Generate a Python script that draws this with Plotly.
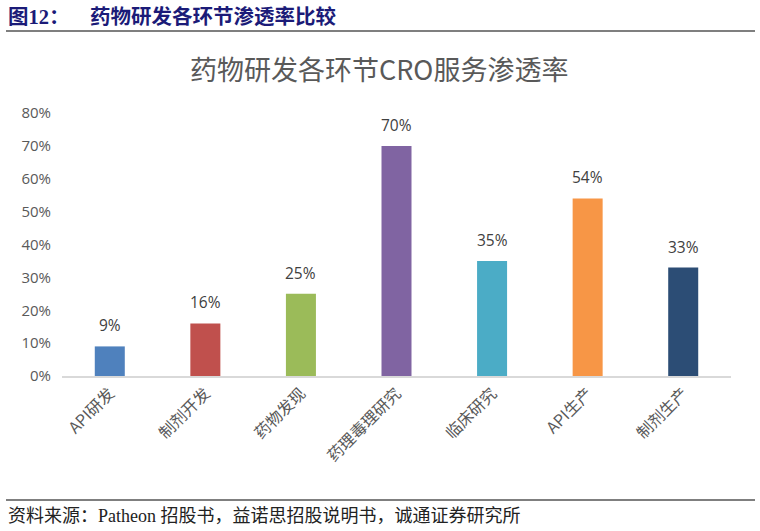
import plotly.graph_objects as go

categories = ["API研发", "制剂开发", "药物发现", "药理毒理研究", "临床研究", "API生产", "制剂生产"]
values = [0.09, 0.16, 0.25, 0.70, 0.35, 0.54, 0.33]
colors = ["#4F81BD", "#C0504D", "#9BBB59", "#8064A2", "#4BACC6", "#F79646", "#2C4D75"]
tick_vals = [0, 0.1, 0.2, 0.3, 0.4, 0.5, 0.6, 0.7, 0.8]

W, H = 760, 531
L, R, T, B = 62, 29, 113, 155
PH = H - T - B
PW = W - L - R


def py(p):
    return (H - B - p) / PH


def px(p):
    return (p - L) / PW


fig = go.Figure()
fig.add_trace(go.Bar(
    x=categories, y=values, marker=dict(color=colors, line=dict(width=0)),
    width=0.314, hoverinfo="skip",
))

for c, v in zip(categories, values):
    fig.add_annotation(x=c, y=v, text=f"{round(v*100)}%", showarrow=False,
                       yanchor="bottom", yshift=8,
                       font=dict(family="Open Sans, Noto Sans CJK SC", size=15.5, color="#404040"))

fig.add_annotation(xref="paper", yref="paper", x=px(W / 2 - 1), y=py(68), text="药物研发各环节CRO服务渗透率",
                   showarrow=False, xanchor="center", yanchor="middle",
                   font=dict(family="Noto Sans CJK SC", size=27, color="#595959"))

fig.add_annotation(xref="paper", yref="paper", x=px(6), y=py(16),
                   text="<b>图12：    药物研发各环节渗透率比较</b>", showarrow=False,
                   xanchor="left", yanchor="middle",
                   font=dict(family="Liberation Serif, Noto Sans CJK SC", size=20.5, color="#1B1B78"))

fig.add_annotation(xref="paper", yref="paper", x=px(6), y=py(516),
                   text="资料来源：Patheon 招股书，益诺思招股说明书，诚通证券研究所", showarrow=False,
                   xanchor="left", yanchor="middle",
                   font=dict(family="Liberation Serif, Noto Sans CJK SC", size=18, color="#222222"))

fig.add_shape(type="line", xref="paper", yref="paper", x0=px(6), x1=px(755), y0=py(31), y1=py(31),
              line=dict(color="#555555", width=1.5))
fig.add_shape(type="line", xref="paper", yref="paper", x0=px(6), x1=px(755), y0=py(500), y1=py(500),
              line=dict(color="#555555", width=1.5))

fig.update_layout(
    width=W, height=H, margin=dict(l=L, r=R, t=T, b=B),
    paper_bgcolor="white", plot_bgcolor="white", showlegend=False,
    xaxis=dict(showgrid=False, showline=True, linecolor="#D9D9D9", linewidth=1.5,
               tickangle=-45, ticks="", fixedrange=True,
               tickfont=dict(family="Noto Sans CJK SC", size=16, color="#595959")),
    yaxis=dict(range=[0, 0.8], tickvals=tick_vals, tickformat=".0%", showgrid=False,
               zeroline=False, showline=False, ticks="", fixedrange=True, ticklabelstandoff=10,
               tickfont=dict(family="Open Sans, Noto Sans", size=15, color="#595959")),
)

fig.write_html("out.html", config={"displayModeBar": False},
               post_script="document.body.style.margin='0';")
